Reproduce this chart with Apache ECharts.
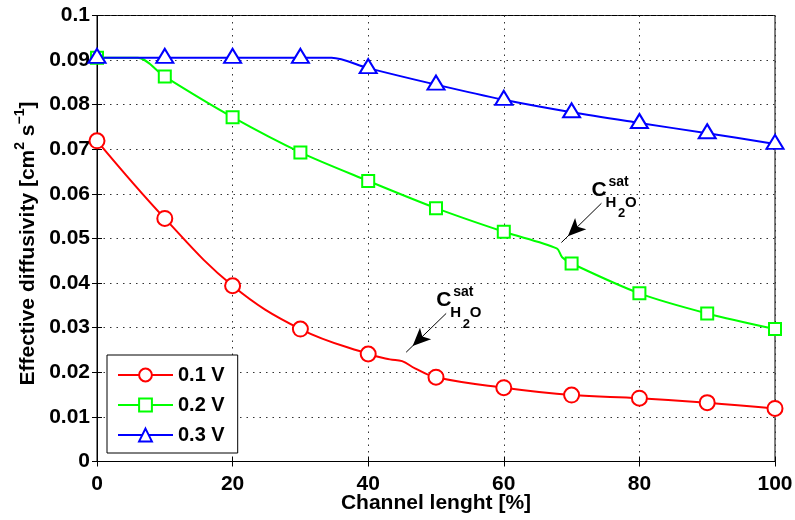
<!DOCTYPE html>
<html>
<head>
<meta charset="utf-8">
<script src="https://cdn.jsdelivr.net/npm/echarts@6/dist/echarts.min.js"></script>
<style>
  html, body { margin: 0; padding: 0; background: #fff; }
  #chart { width: 795px; height: 520px; }
</style>
</head>
<body>
<div id="chart"></div>
<script>
// Channel position of the marked samples [%]
const channelPct = [0, 10, 20, 30, 40, 50, 60, 70, 80, 90, 100];
// Effective diffusivity [cm^2 s^-1] at the marked samples
const diff01V = [0.0719, 0.0545, 0.0394, 0.0297, 0.0241, 0.0189, 0.01655, 0.0149, 0.0142, 0.0132, 0.0119];
const diff02V = [0.0905, 0.0863, 0.0772, 0.0693, 0.0629, 0.0568, 0.0515, 0.0444, 0.0377, 0.0332, 0.0297];
const diff03V = [0.0905, 0.0905, 0.0905, 0.0905, 0.0882, 0.0845, 0.0811, 0.0783, 0.0759, 0.0736, 0.0712];
// Unmarked profile points (plateau ends and saturation kinks): [channel %, diffusivity]
const extra01V = [[43.2, 0.0229], [45.0, 0.0225], [46.9, 0.0209]];
const extra02V = [[6.0, 0.0905], [67.8, 0.0478], [68.6, 0.0458]];
const extra03V = [[34.6, 0.0905]];
const seriesNames = ['0.1 V', '0.2 V', '0.3 V'];
// Tick labels
const xTickLabels = ['0', '20', '40', '60', '80', '100'];
const yTickLabels = ['0', '0.01', '0.02', '0.03', '0.04', '0.05', '0.06', '0.07', '0.08', '0.09', '0.1'];
// Saturation markers: arrow tail and arrow tip, in data coordinates
const satTail = [[74.4, 0.0579], [51.5, 0.0332]];
const satTip = [[68.5, 0.0491], [45.6, 0.0245]];

const FONT = '"Liberation Sans", Arial, Helvetica, sans-serif';
const BLACK = '#000';

function buildData(ys, extra) {
  const pts = channelPct.map((x, i) => ({ value: [x, ys[i]] }));
  extra.forEach(p => pts.push({ value: p, symbol: 'none' }));
  pts.sort((a, b) => a.value[0] - b.value[0]);
  return pts;
}

function markArrow(i) {
  return {
    silent: true,
    animation: false,
    label: { show: false },
    emphasis: { disabled: true },
    lineStyle: { color: BLACK, width: 1, type: 'solid' },
    itemStyle: { color: BLACK },
    data: [[
      { coord: satTail[i], symbol: 'none' },
      { coord: satTip[i], symbol: 'arrow', symbolSize: [12, 18], symbolOffset: [0, 9] }
    ]]
  };
}

const styles = [
  { color: '#ff0000', symbol: 'circle', size: 15, offset: [0, 0], smooth: 0.4 },
  { color: '#00ff00', symbol: 'rect', size: 12, offset: [0, 0], smooth: 0.3 },
  { color: '#0000ff', symbol: 'triangle', size: [17, 14], offset: [0, -2], smooth: 0.3 }
];
const datasets = [buildData(diff01V, extra01V), buildData(diff02V, extra02V), buildData(diff03V, extra03V)];

const series = seriesNames.map((name, i) => {
  const s = {
    name: name,
    type: 'line',
    data: datasets[i],
    smooth: styles[i].smooth,
    symbol: styles[i].symbol,
    symbolSize: styles[i].size,
    symbolOffset: styles[i].offset,
    showAllSymbol: true,
    lineStyle: { color: styles[i].color, width: 2 },
    itemStyle: { color: '#fff', borderColor: styles[i].color, borderWidth: 2 },
    emphasis: { disabled: true },
    animation: false
  };
  if (i === 1) s.markLine = markArrow(0);
  if (i === 0) s.markLine = markArrow(1);
  return s;
});

const tickLabelStyle = { fontFamily: FONT, fontSize: 21, fontWeight: 'bold', color: BLACK };
const gridDots = { show: true, lineStyle: { color: '#333', width: 1, type: [1.5, 5] } };

const chart = echarts.init(document.getElementById('chart'), null, { renderer: 'canvas' });
chart.setOption({
  backgroundColor: '#fff',
  animation: false,
  grid: {
    left: 97, top: 15.5, width: 678, height: 446,
    containLabel: false, outerBoundsMode: 'none',
    show: true, borderColor: BLACK, borderWidth: 1, backgroundColor: 'transparent'
  },
  legend: {
    orient: 'vertical',
    left: 107, top: 355,
    itemWidth: 55, itemHeight: 16, itemGap: 10,
    padding: [10, 13, 8, 10],
    borderColor: BLACK, borderWidth: 1, backgroundColor: '#fff',
    textStyle: { fontFamily: FONT, fontSize: 20, fontWeight: 'bold', color: BLACK },
    data: seriesNames,
    selectedMode: false
  },
  xAxis: [{
    type: 'value', min: 0, max: 100, interval: 20, position: 'bottom',
    axisLine: { show: true, lineStyle: { color: BLACK, width: 1 } },
    axisTick: { show: true, inside: true, length: 5, lineStyle: { color: BLACK } },
    axisLabel: Object.assign({ margin: 12, formatter: v => xTickLabels[Math.round(v / 20)] }, tickLabelStyle),
    splitLine: gridDots,
    name: 'Channel lenght [%]', nameLocation: 'middle', nameGap: 31, nameMoveOverlap: false,
    nameTextStyle: { fontFamily: FONT, fontSize: 21, fontWeight: 'bold', color: BLACK }
  }, {
    type: 'value', min: 0, max: 100, interval: 20, position: 'top',
    axisLine: { show: true, lineStyle: { color: BLACK, width: 1 } },
    axisTick: { show: true, inside: true, length: 5, lineStyle: { color: BLACK } },
    axisLabel: { show: false }, splitLine: { show: false }
  }],
  yAxis: [{
    type: 'value', min: 0, max: 0.1, interval: 0.01, position: 'left',
    axisLine: { show: true, lineStyle: { color: BLACK, width: 1 } },
    axisTick: { show: true, inside: true, length: 5, lineStyle: { color: BLACK } },
    axisLabel: Object.assign({ margin: 7, formatter: v => yTickLabels[Math.round(v / 0.01)] }, tickLabelStyle),
    splitLine: gridDots,
    name: '{b|Effective diffusivity [cm}{sup|2}{b| s}{sup|\u22121}{b|]}',
    nameLocation: 'middle', nameGap: 58, nameMoveOverlap: false,
    nameTextStyle: {
      fontFamily: FONT, fontSize: 21, fontWeight: 'bold', color: BLACK,
      padding: [0, 10, 0, 0],
      rich: {
        b: { fontFamily: FONT, fontSize: 21, fontWeight: 'bold', color: BLACK, lineHeight: 26, verticalAlign: 'bottom' },
        sup: { fontFamily: FONT, fontSize: 14, fontWeight: 'bold', color: BLACK, lineHeight: 14, verticalAlign: 'top' }
      }
    }
  }, {
    type: 'value', min: 0, max: 0.1, interval: 0.01, position: 'right',
    axisLine: { show: true, lineStyle: { color: BLACK, width: 1 } },
    axisTick: { show: true, inside: true, length: 5, lineStyle: { color: BLACK } },
    axisLabel: { show: false }, splitLine: { show: false }
  }],
  series: series
});

// C_H2O^sat labels placed next to each arrow tail
const graphic = [];
satTail.forEach(p => {
  const t = chart.convertToPixel({ gridIndex: 0 }, p);
  const txt = (s, dx, dy, size) => ({
    type: 'text', silent: true, z: 100,
    x: t[0] + dx, y: t[1] + dy,
    style: { text: s, font: 'bold ' + size + 'px ' + FONT, fill: BLACK, verticalAlign: 'top', align: 'left' }
  });
  graphic.push(txt('C', -10, -24, 21));
  graphic.push(txt('sat', 7, -28, 14));
  graphic.push(txt('H', 4, -8, 15));
  graphic.push(txt('2', 16.5, 4, 13));
  graphic.push(txt('O', 23.5, -8, 15));
});
chart.setOption({ graphic: graphic });
</script>
</body>
</html>
